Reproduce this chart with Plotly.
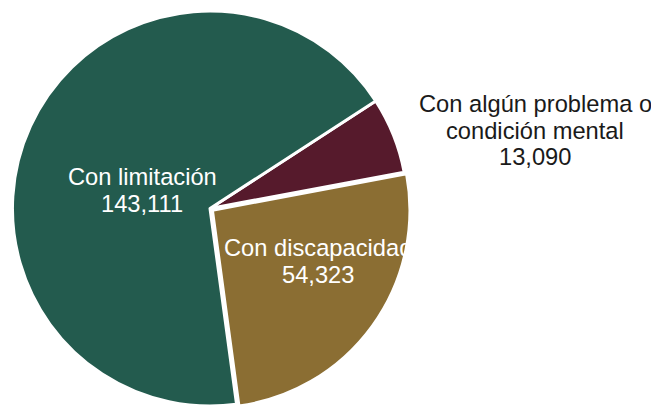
import plotly.graph_objects as go

labels = ["Con algún problema o condición mental", "Con discapacidad", "Con limitación"]
label_lines = [["Con algún problema o", "condición mental"], ["Con discapacidad"], ["Con limitación"]]
values = [13090, 54323, 143111]
colors = ["#561A2C", "#8B6E33", "#235B4E"]
pulls = [0, 0.015, 0]
text_colors = ["#1A1A1A", "#FFFFFF", "#FFFFFF"]

W, H = 659, 405
OFF = 8  # page body margin of the browser
FONT = "Liberation Sans, Arial, sans-serif"
# label block centres (px, screen) and line spacing
label_pos = [(535, 104), (318, 248), (142, 177)]
LINE = 26.5
HALF = 200.5

fig = go.Figure(go.Pie(
    labels=labels,
    values=values,
    textinfo="none",
    marker=dict(colors=colors, line=dict(color="white", width=3)),
    pull=pulls,
    sort=False,
    direction="clockwise",
    rotation=57,
    showlegend=False,
    hoverinfo="label+value",
    domain=dict(x=[(210 - OFF - HALF) / W, (210 - OFF + HALF) / W],
                y=[1 - 2 * HALF / H, 1]),
))

for lines, val, col, (cx, cy) in zip(label_lines, values, text_colors, label_pos):
    all_lines = lines + [f"{val:,}"]
    for i, t in enumerate(all_lines):
        fig.add_annotation(
            text=t, xref="paper", yref="paper",
            x=(cx - OFF) / W, y=1 - (cy - OFF + i * LINE) / H,
            xanchor="center", yanchor="middle", showarrow=False,
            font=dict(family=FONT, size=23.7, color=col),
        )

fig.update_layout(
    width=W, height=H,
    margin=dict(l=0, r=0, t=0, b=0),
    paper_bgcolor="white",
    plot_bgcolor="white",
    font=dict(family=FONT),
)
fig.write_html("out.html")
